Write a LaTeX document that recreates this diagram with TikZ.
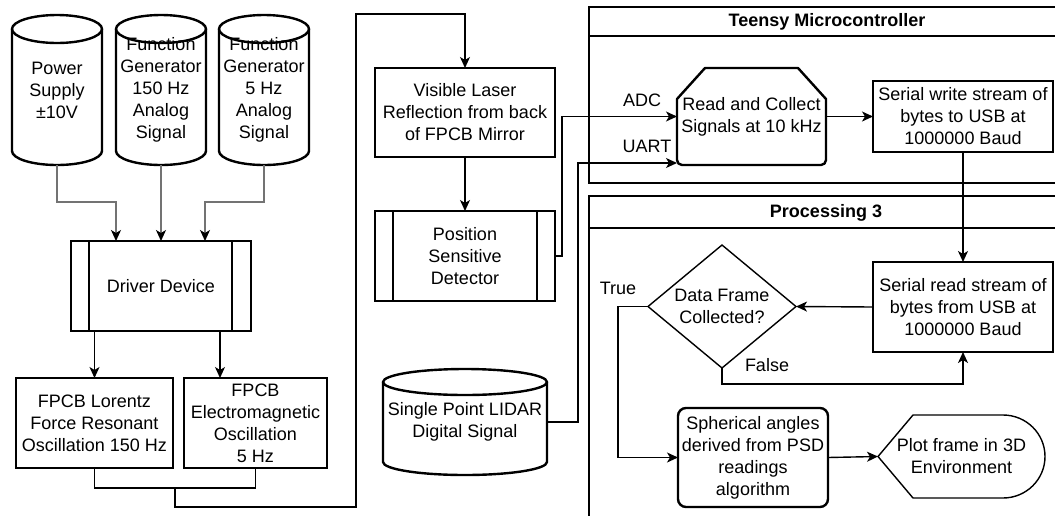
\documentclass[tikz,border=0pt]{standalone}
\usepackage{fontspec}
\setmainfont{Liberation Sans}
\usetikzlibrary{arrows.meta,calc}
\newcommand{\dfont}{\fontsize{18}{22}\selectfont}
\definecolor{linegray}{RGB}{115,115,115}
\tikzset{
 base/.style={inner sep=0pt, outer sep=0pt, font=\dfont, align=center},
 boxnode/.style={base, draw, line width=1.4pt, rectangle},
 bare/.style={base, rectangle},
 thickline/.style={line width=2.4pt, line join=round},
 conn/.style={line width=1.4pt},
 arr/.style={conn, -{Stealth[length=11pt,width=10pt,inset=3pt]}},
 garr/.style={line width=1.5pt, draw=linegray, -{Stealth[length=11pt,width=10pt,inset=3pt,color=black]}},
 lbl/.style={base},
 ttl/.style={base, font=\dfont\bfseries},
}
\newcommand{\cyl}[7]{%
  \draw[thickline] (#2-#4/2, #3-#5/2+#6) -- (#2-#4/2, #3+#5/2-#6)
     arc[start angle=180, end angle=0, x radius=#4/2, y radius=#6] -- (#2+#4/2, #3-#5/2+#6);
  \draw[thickline] (#2, #3-#5/2+#6) ellipse[x radius=#4/2, y radius=#6];
  \node[bare, minimum width=#4, minimum height=#5] (#1) at (#2,#3) {#7};
}
\begin{document}
\begin{tikzpicture}[x=1pt, y=-1pt]
\useasboundingbox (0,0) rectangle (1055,515);
\clip (0,0) rectangle (1055,515);

% containers
\node[boxnode, minimum width=476, minimum height=176] (teensy) at (827,95) {};
\draw[conn] ($(teensy.north west)+(0,29)$) -- ($(teensy.north east)+(0,29)$);
\node[ttl] (teensyT) at (827,22) {Teensy Microcontroller};
\node[boxnode, minimum width=476, minimum height=344] (proc) at (827,368) {};
\draw[conn] ($(proc.north west)+(0,32)$) -- ($(proc.north east)+(0,32)$);
\node[ttl] (procT) at (826,213) {Processing 3};

% cylinders
\cyl{ps}{57}{90}{90}{150}{14}{Power\\Supply\\±10V}
\cyl{fga}{161}{90}{90}{150}{14}{Function\\Generator\\150 Hz\\Analog\\Signal}
\cyl{fgb}{264}{90}{90}{150}{14}{Function\\Generator\\5 Hz\\Analog\\Signal}
\cyl{lidar}{465}{422}{164}{106}{13}{Single Point LIDAR\\Digital Signal}

% driver device
\node[boxnode, minimum width=180, minimum height=90] (drv) at (161,286) {Driver Device};
\draw[conn] ($(drv.north west)+(18,0)$) -- ($(drv.south west)+(18,0)$);
\draw[conn] ($(drv.north east)+(-19,0)$) -- ($(drv.south east)+(-19,0)$);

% FPCB boxes
\node[boxnode, minimum width=157, minimum height=90] (lor) at (94.5,423) {FPCB Lorentz\\Force Resonant\\Oscillation 150 Hz};
\node[boxnode, minimum width=143, minimum height=90] (em) at (255.5,423) {FPCB\\Electromagnetic\\Oscillation\\5 Hz};

% laser / PSD
\node[boxnode, minimum width=180, minimum height=89] (vis) at (465,112.5) {Visible Laser\\Reflection from back\\of FPCB Mirror};
\node[boxnode, minimum width=180, minimum height=90] (psd) at (465,256) {Position\\Sensitive\\Detector};
\draw[conn] ($(psd.north west)+(18,0)$) -- ($(psd.south west)+(18,0)$);
\draw[conn] ($(psd.north east)+(-18,0)$) -- ($(psd.south east)+(-18,0)$);

% Teensy nodes
\draw[thickline] (677,99) -- (705,68) -- (798,68) -- (826,99) -- (826,160)
   arc[start angle=0, end angle=90, radius=5] -- (682,165)
   arc[start angle=90, end angle=180, radius=5] -- cycle;
\node[bare, minimum width=149, minimum height=97] (rc) at (751.5,116.5) {Read and Collect\\Signals at 10 kHz};
\node[boxnode, minimum width=180, minimum height=71] (sw) at (963,116.5) {Serial write stream of\\bytes to USB at\\1000000 Baud};

% Processing nodes
\node[boxnode, minimum width=180, minimum height=90] (sr) at (963,307) {Serial read stream of\\bytes from USB at\\1000000 Baud};
\node[bare, minimum width=148, minimum height=123] (dec) at (722,306.5) {Data Frame\\Collected?};
\draw[conn] (dec.north) -- (dec.east) -- (dec.south) -- (dec.west) -- cycle;
\node[base, draw, line width=2.4pt, rounded corners=8pt, minimum width=150, minimum height=99] (sph) at (753,457.5) {Spherical angles\\derived from PSD\\readings\\algorithm};
\node[bare, minimum width=167, minimum height=83] (plot) at (961.5,456.5) {Plot frame in 3D\\Environment};
\draw[conn] (plot.west) -- (913,415) -- (1003,415)
   arc[start angle=-90, end angle=90, x radius=42, y radius=41.5] -- (913,498) -- cycle;

% gray connectors
\draw[garr] (ps.south) -- ++(0,37) -| ($(drv.north west)+(45,0)$);
\draw[garr] (fga.south) -- (drv.north);
\draw[garr] (fgb.south) -- ++(0,37) -| ($(drv.north east)+(-46,0)$);

% driver outputs
\draw[arr] (lor.north |- drv.south) -- (lor.north);
\coordinate (d2) at ($(drv.south east)+(-31,0)$);
\draw[arr] (d2) -- (d2 |- em.north);

% bottom connectors
\coordinate (jl) at ($(lor.south)+(0,20)$);
\draw[conn] (lor.south) -- (jl) -| (em.south);
\coordinate (jm) at ($(jl)!0.5!(jl -| em.south)$);
\draw[arr] (jm) |- (356,507) -- (356,14) -| (vis.north);

\draw[arr] (vis.south) -- (psd.north);
\draw[arr] (psd.east) -- ++(7,0) |- (rc.west);
\coordinate (rcu) at ($(rc.south west)+(0,-2)$);
\draw[arr] (lidar.east) -- ++(31,0) |- (rcu);
\draw[arr] (rc.east) -- (sw.west);
\draw[arr] (sw.south) -- (sr.north);
\draw[arr] (sr.west) -- (dec.east);
\draw[arr] (dec.west) -- ++(-30,0) |- (sph.west);
\draw[arr] (dec.south) -- ++(0,16) -| (sr.south);
\draw[arr] (sph.east) -- (plot.west);

% labels
\node[lbl] (adc) at (642,100) {ADC};
\node[lbl] (uart) at (647,146) {UART};
\node[lbl] (tru) at (618,288) {True};
\node[lbl] (fal) at (767,365) {False};
\end{tikzpicture}
\end{document}
